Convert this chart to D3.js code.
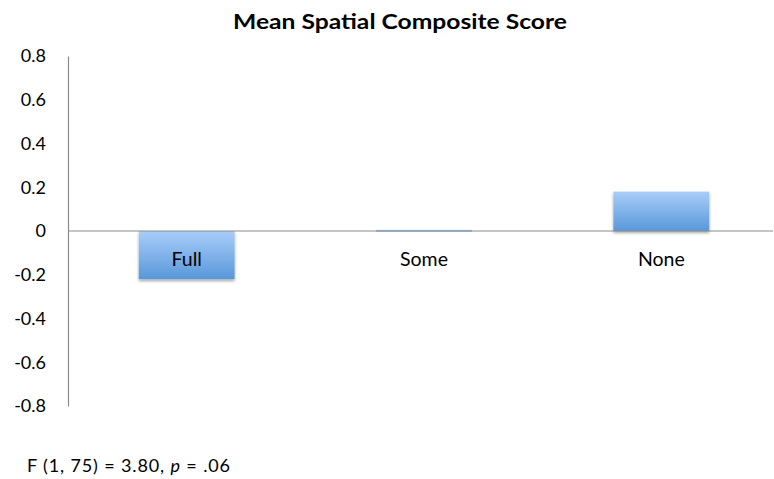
<!DOCTYPE html>
<html>
<head>
<meta charset="utf-8">
<script src="https://cdn.jsdelivr.net/npm/d3@7"></script>
<style>
  html, body { margin: 0; padding: 0; background: #fff; }
  svg { display: block; font-family: Lato, "Open Sans", sans-serif; }
</style>
</head>
<body>
<svg id="chart" width="774" height="479"></svg>
<script>
// Mean spatial composite score by group
const categories = ["Full", "Some", "None"];
const values = [-0.22, 0.005, 0.18];
const tickValues = [0.8, 0.6, 0.4, 0.2, 0, -0.2, -0.4, -0.6, -0.8];
const tickLabels = ["0.8", "0.6", "0.4", "0.2", "0", "-0.2", "-0.4", "-0.6", "-0.8"];

const svg = d3.select("#chart");
const plotLeft = 68, plotRight = 780, plotTop = 56, plotBottom = 406;

const x = d3.scaleBand().domain(categories).range([plotLeft, plotRight]).paddingInner(0.596).paddingOuter(0.298);
const y = d3.scaleLinear().domain([-0.8, 0.8]).range([plotBottom, plotTop]);

const defs = svg.append("defs");
const grad = defs.append("linearGradient").attr("id", "barFill")
  .attr("x1", 0).attr("y1", 0).attr("x2", 0).attr("y2", 1);
grad.append("stop").attr("offset", "0%").attr("stop-color", "#a9cdf8");
grad.append("stop").attr("offset", "100%").attr("stop-color", "#5898da");

const shadow = defs.append("filter").attr("id", "shadow")
  .attr("x", "-10%").attr("y", "-10%").attr("width", "130%").attr("height", "140%");
shadow.append("feGaussianBlur").attr("in", "SourceAlpha").attr("stdDeviation", 1.5);
shadow.append("feOffset").attr("dx", 0).attr("dy", 2).attr("result", "ob");
shadow.append("feComponentTransfer").append("feFuncA").attr("type", "linear").attr("slope", 0.35);
const merge = shadow.append("feMerge");
merge.append("feMergeNode");
merge.append("feMergeNode").attr("in", "SourceGraphic");

// Title
svg.append("text")
  .attr("x", 400).attr("y", 29)
  .attr("text-anchor", "middle")
  .attr("font-weight", "bold")
  .attr("font-size", 21)
  .attr("fill", "#000")
  .attr("textLength", 334)
  .attr("lengthAdjust", "spacingAndGlyphs")
  .text("Mean Spatial Composite Score");

// Bars
svg.append("g").selectAll("rect")
  .data(categories.map((c, i) => ({ c, v: values[i] })))
  .join("rect")
  .attr("x", d => x(d.c))
  .attr("width", x.bandwidth())
  .attr("y", d => y(Math.max(0, d.v)))
  .attr("height", d => Math.max(1.5, Math.abs(y(d.v) - y(0))))
  .attr("fill", "url(#barFill)")
  .attr("filter", "url(#shadow)");

// Y axis
const yAxis = d3.axisLeft(y)
  .tickValues(tickValues)
  .tickFormat((d, i) => tickLabels[i])
  .tickSize(0)
  .tickPadding(22);
const ga = svg.append("g").attr("transform", `translate(${plotLeft},0)`).call(yAxis);
ga.select(".domain").attr("stroke", "#8c8c8c").attr("stroke-width", 1.2);
ga.selectAll("text").attr("font-size", 18).attr("fill", "#000")
  .attr("font-family", "Lato, 'Open Sans', sans-serif");

// Zero baseline
svg.append("line")
  .attr("x1", plotLeft).attr("x2", 773)
  .attr("y1", y(0)).attr("y2", y(0))
  .attr("stroke", "#8c8c8c").attr("stroke-width", 1.2);

// Category labels
svg.append("g").selectAll("text")
  .data(categories)
  .join("text")
  .attr("x", d => x(d) + x.bandwidth() / 2)
  .attr("y", y(0) + 35)
  .attr("text-anchor", "middle")
  .attr("font-size", 19.5)
  .attr("fill", "#000")
  .text(d => d);

// Test statistic note
const note = svg.append("text")
  .attr("x", 27).attr("y", 472)
  .attr("font-size", 18)
  .attr("fill", "#000")
  .attr("textLength", 203)
  .attr("lengthAdjust", "spacing");
note.append("tspan").text("F (1, 75) = 3.80, ");
note.append("tspan").attr("font-style", "italic").text("p");
note.append("tspan").text(" = .06");
</script>
</body>
</html>
